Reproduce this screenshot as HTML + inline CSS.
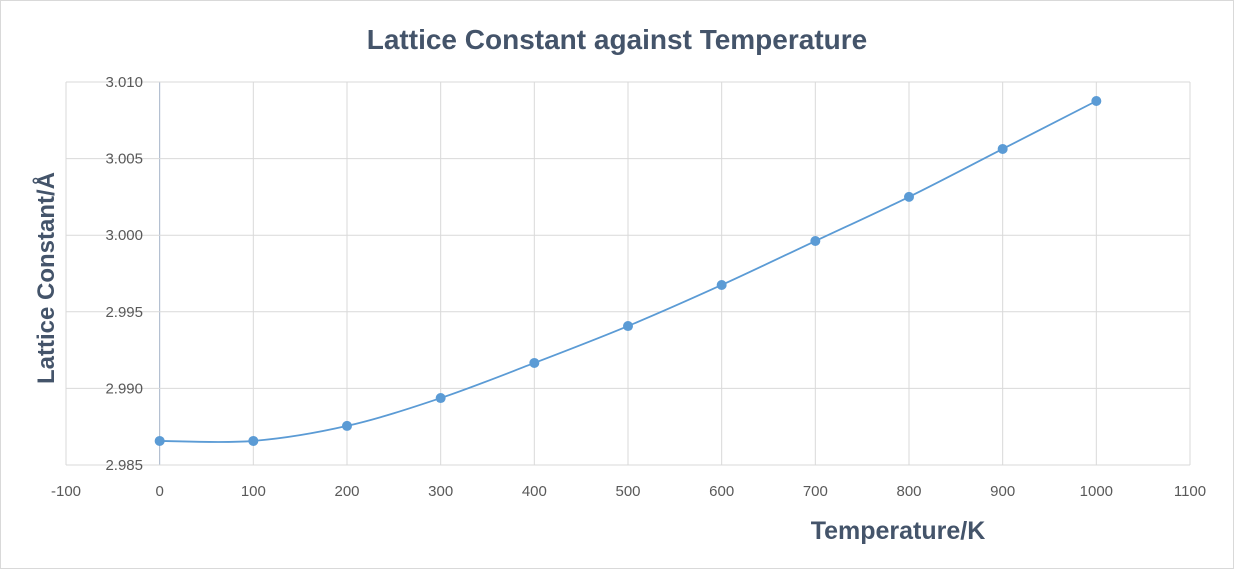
<!DOCTYPE html>
<html><head><meta charset="utf-8"><style>
html,body{margin:0;padding:0;background:#fff}
svg{display:block;font-family:"Liberation Sans",sans-serif}
</style></head><body>
<svg width="1234" height="569" viewBox="0 0 1234 569">
<rect x="0.5" y="0.5" width="1233" height="568" fill="#fff" stroke="#d9d9d9"/>
<text x="617" y="49" text-anchor="middle" font-size="28" font-weight="bold" fill="#44546a">Lattice Constant against Temperature</text>
<g id="grid"></g>
<g id="axes"></g>
<g id="series"></g>
<text x="898" y="539" text-anchor="middle" font-size="25" font-weight="bold" fill="#44546a">Temperature/K</text>
<text transform="translate(54,278) rotate(-90)" text-anchor="middle" font-size="24" font-weight="bold" fill="#44546a">Lattice Constant/Å</text>
</svg>
<script>
const temps=[0,100,200,300,400,500,600,700,800,900,1000];
const lattice=[2.98657,2.98657,2.98755,2.98937,2.99166,2.99407,2.99675,2.99962,3.00250,3.00563,3.00876];
const xTicks=[-100,0,100,200,300,400,500,600,700,800,900,1000,1100];
const yTicks=[2.985,2.990,2.995,3.000,3.005,3.010];
const NS="http://www.w3.org/2000/svg";
const X0=66,X1=1190,Y0=465,Y1=82;
const xs=v=>X0+(v+100)/1200*(X1-X0);
const ys=v=>Y0-(v-2.985)/0.025*(Y0-Y1);
function mk(t,a,p){const e=document.createElementNS(NS,t);for(const k in a)e.setAttribute(k,a[k]);p.appendChild(e);return e;}
const grid=document.getElementById('grid'),axes=document.getElementById('axes'),ser=document.getElementById('series');
xTicks.forEach(t=>{
 const l=mk('line',{x1:xs(t),x2:xs(t),y1:Y1,y2:Y0,stroke:t===0?'#a6b4c8':'#d9d9d9','stroke-width':1},grid);
 
 
 const tx=mk('text',{x:xs(t),y:Y0+31,'text-anchor':'middle','font-size':15,fill:'#595959'},axes);
 tx.textContent=t;
 
 
});
yTicks.forEach(t=>{
 const l=mk('line',{x1:X0,x2:X1,y1:ys(t),y2:ys(t),stroke:'#d9d9d9','stroke-width':1},grid);
 
 
 const tx=mk('text',{x:143,y:ys(t)+5,'text-anchor':'end','font-size':15,fill:'#595959'},axes);
 tx.textContent=t.toFixed(3);
 
 
});
const P=temps.map((t,i)=>[xs(t),ys(lattice[i])]);
let d='M'+P[0][0]+','+P[0][1];
for(let i=0;i<P.length-1;i++){
 const p0=P[i-1]||P[i],p1=P[i],p2=P[i+1],p3=P[i+2]||P[i+1],k=1/6;
 d+=` C${p1[0]+(p2[0]-p0[0])*k},${p1[1]+(p2[1]-p0[1])*k} ${p2[0]-(p3[0]-p1[0])*k},${p2[1]-(p3[1]-p1[1])*k} ${p2[0]},${p2[1]}`;
}
const line=mk('path',{d:d,fill:'none',stroke:'#5b9bd5','stroke-width':1.8},ser);


P.forEach(p=>{
 const c=mk('circle',{cx:p[0],cy:p[1],r:5,fill:'#5b9bd5'},ser);
 
 
});
</script>
</body></html>
